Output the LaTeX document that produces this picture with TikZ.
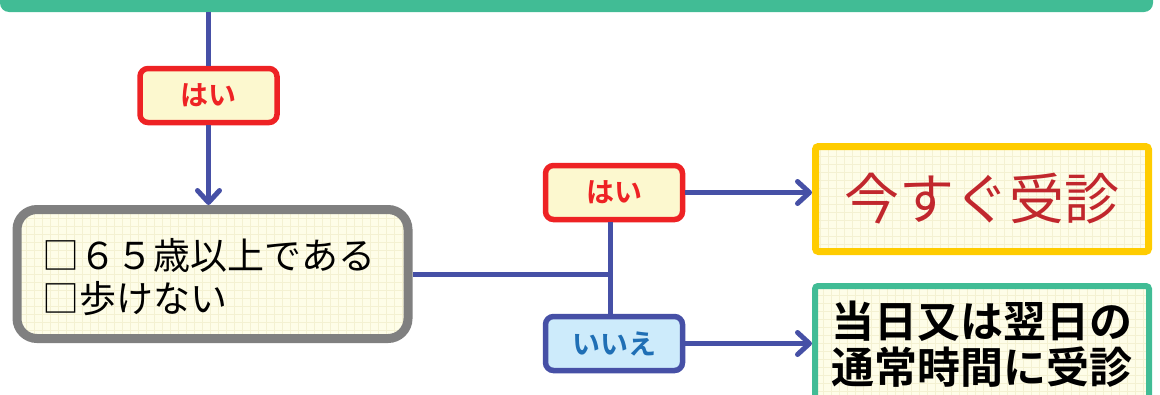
\documentclass[tikz,border=0pt]{standalone}
\usepackage{fontspec}
\setmainfont{Noto Sans CJK JP}
\newfontfamily\jpbold{Noto Sans CJK JP Bold}
\usetikzlibrary{arrows.meta,positioning}

\definecolor{flowgreen}{HTML}{41BC95}
\definecolor{flowblue}{HTML}{4650A6}
\definecolor{flowred}{HTML}{EE2224}
\definecolor{tagyellow}{HTML}{FCF8CF}
\definecolor{boxyellow}{HTML}{FEFDE8}
\definecolor{gridyellow}{HTML}{F4F1D2}
\definecolor{flowgray}{HTML}{808080}
\definecolor{goldline}{HTML}{FFCC00}
\definecolor{darkred}{HTML}{C1272D}
\definecolor{tagblue}{HTML}{CDEBFB}
\definecolor{textblue}{HTML}{1F6FB5}

\tikzset{
  yestag/.style={draw=flowred,fill=tagyellow,line width=5.5pt,rounded corners=8pt,
    minimum width=137pt,minimum height=54pt,text=flowred,
    font=\jpbold\fontsize{28}{28}\selectfont},
  notag/.style={yestag,draw=flowblue,fill=tagblue,text=textblue},
  gridfill/.style={fill=boxyellow,path picture={
      \draw[gridyellow,line width=0.6pt,step=8pt]
        (path picture bounding box.south west) grid (path picture bounding box.north east);}},
  link/.style={draw=flowblue,line width=5pt},
  go/.style={link,-{Straight Barb[length=12pt,width=22pt,line cap=round,line join=round]}}
}

\begin{document}
\begin{tikzpicture}[x=1pt,y=-1pt]
  \useasboundingbox (0,0) rectangle (1160,394);
  % bottom of the box above
  \fill[flowgreen,rounded corners=9pt] (0,-20) rectangle (1153,12);

  \node[yestag]            (hai1) at (208.5,95.5)  {はい};
  \node[draw=flowgray,gridfill,line width=9pt,rounded corners=20pt,
        minimum width=391pt,minimum height=129pt,anchor=west,
        font=\fontsize{37}{43}\selectfont,inner xsep=22pt,text width=340pt]
                           (check) at (12.5,274)
        {\raisebox{5pt}[0pt][0pt]{\begin{tabular}[t]{@{}l@{}}□６５歳以上である\\□歩けない\end{tabular}}};
  \node[yestag]            (hai2) at (614,192.5)   {はい};
  \node[notag]             (iie)  at (614,343.5)   {いいえ};
  \node[draw=goldline,gridfill,line width=7pt,rounded corners=3pt,
        minimum width=333pt,minimum height=105pt,text=darkred,
        font=\fontsize{55}{55}\selectfont]
                           (now)  at (982,199)     {今すぐ受診};
  \node[draw=flowgreen,gridfill,line width=6pt,rounded corners=3pt,
        minimum width=334pt,minimum height=116pt,align=center,
        font=\jpbold\fontsize{43}{46}\selectfont,below=28pt of now.south,anchor=north]
                           (next)                  {当日又は翌日の\\通常時間に受診};

  \path[link] (208.5,12) -- (hai1.north);
  \path[go]   (hai1.south) -- (check.north -| hai1.south);
  \coordinate (split) at (610,274);
  \path[link] (check.east) -- (split);
  \path[link] (hai2.south -| split) -- (iie.north -| split);
  \path[go]   (hai2.east) -- (hai2.east -| now.west);
  \path[go]   (iie.east)  -- (iie.east -| next.west);
\end{tikzpicture}
\end{document}
